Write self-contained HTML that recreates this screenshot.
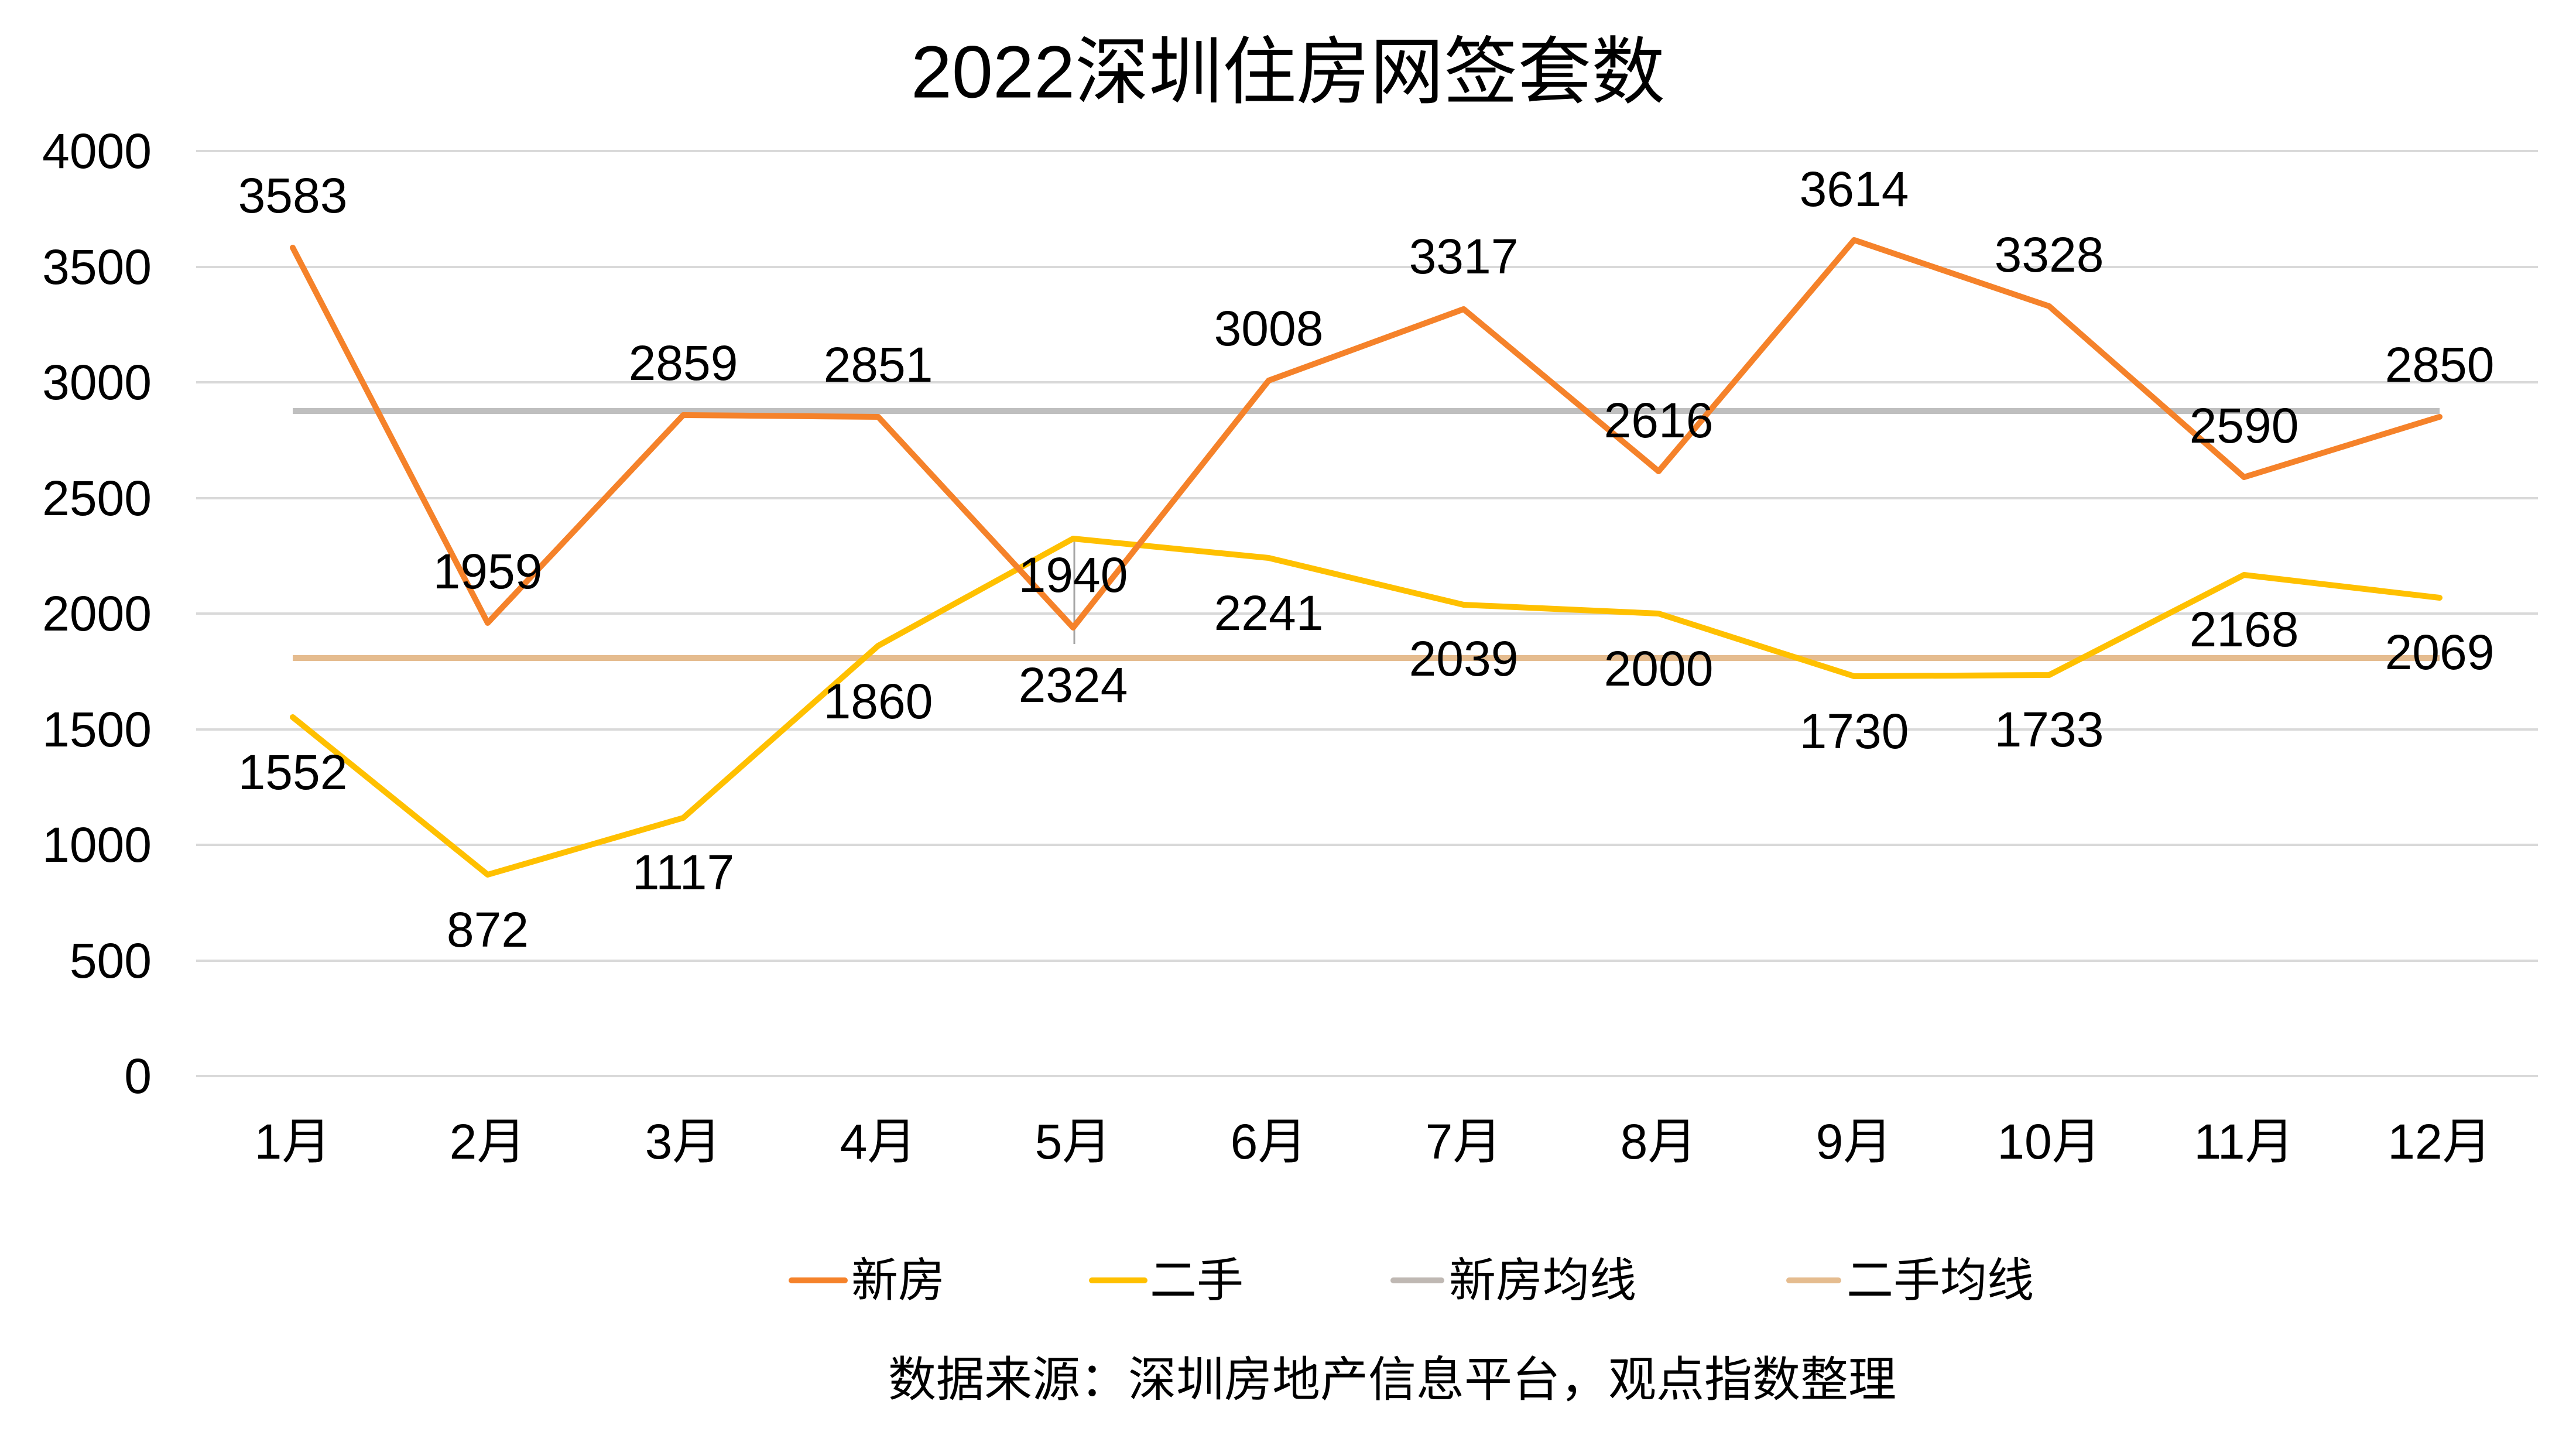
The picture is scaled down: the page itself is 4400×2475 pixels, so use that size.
<!DOCTYPE html>
<html><head><meta charset="utf-8"><style>
html,body{margin:0;padding:0;background:#fff;}
svg{display:block;}
text{font-family:"Liberation Sans","Noto Sans CJK SC",sans-serif;fill:#000;}
</style></head><body>
<svg width="4400" height="2475" viewBox="0 0 4400 2475" xmlns="http://www.w3.org/2000/svg">
<rect width="4400" height="2475" fill="#fff"/>
<text x="2200" y="123" font-size="126" text-anchor="middle" dominant-baseline="central">2022深圳住房网签套数</text>
<g stroke="#D9D9D9" stroke-width="4">
<line x1="335" y1="258" x2="4335" y2="258"/>
<line x1="335" y1="456" x2="4335" y2="456"/>
<line x1="335" y1="653" x2="4335" y2="653"/>
<line x1="335" y1="851" x2="4335" y2="851"/>
<line x1="335" y1="1048" x2="4335" y2="1048"/>
<line x1="335" y1="1246" x2="4335" y2="1246"/>
<line x1="335" y1="1443" x2="4335" y2="1443"/>
<line x1="335" y1="1641" x2="4335" y2="1641"/>
<line x1="335" y1="1838" x2="4335" y2="1838"/>
</g>
<g font-size="84" text-anchor="end" dominant-baseline="central">
<text x="259" y="258">4000</text><text x="259" y="456">3500</text><text x="259" y="653">3000</text>
<text x="259" y="851">2500</text><text x="259" y="1048">2000</text><text x="259" y="1246">1500</text>
<text x="259" y="1443">1000</text><text x="259" y="1641">500</text><text x="259" y="1838">0</text>
</g>
<g font-size="84" text-anchor="middle" dominant-baseline="central">
<text x="500" y="1950">1月</text><text x="833" y="1950">2月</text><text x="1167" y="1950">3月</text>
<text x="1500" y="1950">4月</text><text x="1833" y="1950">5月</text><text x="2167" y="1950">6月</text>
<text x="2500" y="1950">7月</text><text x="2833" y="1950">8月</text><text x="3167" y="1950">9月</text>
<text x="3500" y="1950">10月</text><text x="3833" y="1950">11月</text><text x="4167" y="1950">12月</text>
</g>
<line x1="500" y1="702" x2="4167" y2="702" stroke="#BFBFBF" stroke-width="10"/>
<line x1="500" y1="1124" x2="4167" y2="1124" stroke="#E5BC8F" stroke-width="10"/>
<line x1="1835" y1="920" x2="1835" y2="1100" stroke="#A6A6A6" stroke-width="3"/>
<polyline fill="none" stroke="#FFC000" stroke-width="10" stroke-linejoin="round" stroke-linecap="round"
points="500,1225 833,1494 1167,1397 1500,1103 1833,920 2167,953 2500,1033 2833,1048 3167,1155 3500,1153 3833,982 4167,1021"/>
<polyline fill="none" stroke="#F5822A" stroke-width="10" stroke-linejoin="round" stroke-linecap="round"
points="500,423 833,1064 1167,709 1500,712 1833,1072 2167,650 2500,528 2833,805 3167,410 3500,523 3833,815 4167,712"/>
<g font-size="84" text-anchor="middle" dominant-baseline="central">
<text x="500" y="334">3583</text><text x="833" y="976">1959</text><text x="1167" y="620">2859</text>
<text x="1500" y="623">2851</text><text x="1833" y="982">1940</text><text x="2167" y="561">3008</text>
<text x="2500" y="438">3317</text><text x="2833" y="718">2616</text><text x="3167" y="323">3614</text>
<text x="3500" y="435">3328</text><text x="3833" y="727">2590</text><text x="4167" y="623">2850</text>
<text x="500" y="1319">1552</text><text x="833" y="1588">872</text><text x="1167" y="1490">1117</text>
<text x="1500" y="1198">1860</text><text x="1833" y="1170">2324</text><text x="2167" y="1047">2241</text>
<text x="2500" y="1125">2039</text><text x="2833" y="1142">2000</text><text x="3167" y="1249">1730</text>
<text x="3500" y="1246">1733</text><text x="3833" y="1075">2168</text><text x="4167" y="1114">2069</text>
</g>
<g stroke-width="10" stroke-linecap="round">
<line x1="1352" y1="2187" x2="1443" y2="2187" stroke="#F5822A"/>
<line x1="1865" y1="2187" x2="1955" y2="2187" stroke="#FFC000"/>
<line x1="2380" y1="2187" x2="2462" y2="2187" stroke="#BFB8B3"/>
<line x1="3056" y1="2187" x2="3140" y2="2187" stroke="#E5BC8F"/>
</g>
<g font-size="80" dominant-baseline="central">
<text x="1454" y="2187">新房</text>
<text x="1964" y="2187">二手</text>
<text x="2475" y="2187">新房均线</text>
<text x="3154" y="2187">二手均线</text>
</g>
<text x="2378" y="2357" font-size="82" text-anchor="middle" dominant-baseline="central">数据来源：深圳房地产信息平台，观点指数整理</text>
</svg>
</body></html>
